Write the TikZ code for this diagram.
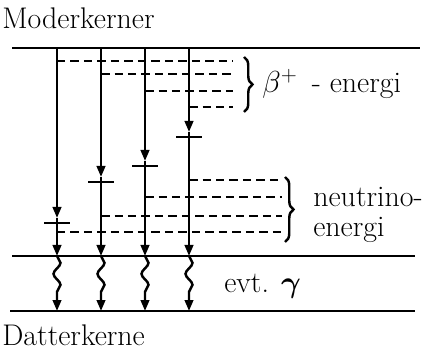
\documentclass[tikz,border=0pt]{standalone}
\usepackage{amsmath,amssymb}
\usetikzlibrary{arrows.meta, decorations.pathreplacing, decorations.pathmorphing}
\begin{document}
\begin{tikzpicture}[x=0.02cm, y=-0.02cm, every node/.style={font=\fontsize{17}{20}\selectfont, inner sep=0pt}]

        % Styles for levels, transitions and energy shares
        \tikzset{
            level/.style={line width=1.6pt},
            decay/.style={line width=1.4pt, -{Triangle[length=0.22cm, width=0.17cm]}},
            share/.style={line width=1.1pt, dash pattern=on 0.17cm off 0.1cm},
            curly/.style={line width=1.4pt, decorate, decoration={brace, amplitude=0.17cm}},
            photon/.style={decay, decorate, decoration={snake, segment length=0.44cm, amplitude=0.07cm, post length=0.22cm}},
            bar/.style={line width=1.6pt}
        }
        \useasboundingbox (0,0) rectangle (425,350);

        % --- The three levels ---
        \draw[level] (12,48) coordinate (moderL) -- (420,48) coordinate (moderR);
        \draw[level] (12,256) coordinate (midL) -- (415,256) coordinate (midR);
        \draw[level] (10,311) coordinate (datterL) -- (415,311) coordinate (datterR);
        \node[anchor=base west] (moder) at (2,29) {Moderkerner};
        \node[anchor=base west] (datter) at (2,346) {Datterkerne};

        % --- Four decay branches: x, bar, beta share, neutrino share ---
        \foreach \i/\x/\b/\p/\n in {1/57/223/61/232, 2/101/182/74/216, 3/145/166/91/197, 4/189/137/107/180} {
            \coordinate (top\i) at (\x,48);
            \coordinate (tip\i) at (\x,\b-5);
            \coordinate (bar\i) at (\x,\b);
            \coordinate (mid\i) at (\x,256);
            \coordinate (bot\i) at (\x,311);
            \draw[decay] (top\i) -- (tip\i);
            \draw[line width=1.4pt] (tip\i) -- (bar\i);
            \draw[bar] (\x-13,\b) -- (\x+13,\b);
            \draw[decay] (bar\i) -- (mid\i);
            \draw[photon] (mid\i) -- (bot\i);
            % energy shares
            \draw[share] (\x,\p) -- (233,\p);
            \draw[share] (\x,\n) -- (282,\n);
        }

        % --- Braces and labels ---
        \draw[curly] (244,57) coordinate (betaT) -- (244,112) coordinate (betaB);
        \node[anchor=base west] (beta) at (262,93) {$\beta^{+}$\, - energi};
        \draw[curly] (285,177) coordinate (nuT) -- (285,242) coordinate (nuB);
        \node[anchor=base west] (nuA) at (313,207) {neutrino-};
        \node[anchor=base west] (nuE) at (313,237) {energi};
        \node[anchor=base west] (gam) at (224,293) {evt. $\boldsymbol{\gamma}$};

    \end{tikzpicture}
\end{document}
